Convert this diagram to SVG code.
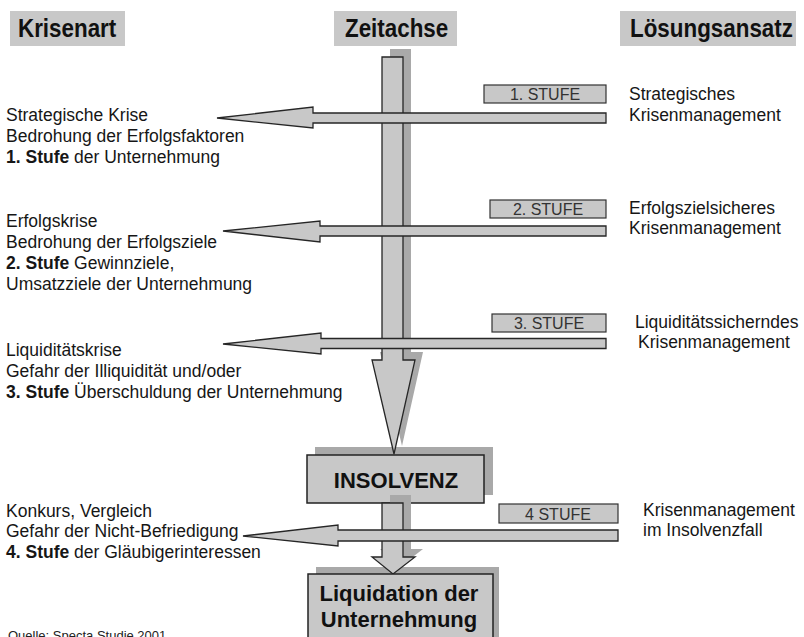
<svg xmlns="http://www.w3.org/2000/svg" width="804" height="637" viewBox="0 0 804 637">
<style>
.hdr{fill:#c8c8c8}
.hdrt{font-family:"Liberation Sans",Arial,sans-serif;font-weight:bold;font-size:22.4px;fill:#111}
.sh{fill:#a9a9a9}
.ar{fill:#c8c8c8;stroke:#262626;stroke-width:1.3;stroke-linejoin:miter}
.box{fill:#c8c8c8;stroke:#222;stroke-width:1.5}
.boxt{font-family:"Liberation Sans",Arial,sans-serif;font-weight:bold;font-size:22px;fill:#111;text-anchor:middle}
.st{fill:#c8c8c8;stroke:#333;stroke-width:1.2}
.stt{font-family:"Liberation Sans",Arial,sans-serif;font-size:16px;fill:#333;text-anchor:middle}
.t{font-family:"Liberation Sans",Arial,sans-serif;font-size:17.5px;fill:#161616}
.t tspan.b{font-weight:bold}
.src{font-family:"Liberation Sans",Arial,sans-serif;font-size:13px;fill:#222}
</style>
<rect width="804" height="637" fill="#fff"/>

<g id="header-krisenart">
<rect class="hdr" x="10" y="11" width="115" height="35"/>
<text class="hdrt" transform="translate(18,37) scale(1,1.17)">Krisenart</text>
</g>
<g id="header-zeitachse">
<rect class="hdr" x="334" y="11" width="123" height="35"/>
<text class="hdrt" transform="translate(345,37) scale(1,1.17)">Zeitachse</text>
</g>
<g id="header-loesungsansatz">
<rect class="hdr" x="620" y="11" width="176" height="35"/>
<text class="hdrt" transform="translate(630,37) scale(1,1.17)">Lösungsansatz</text>
</g>

<g id="insolvenz-shadow">
<rect class="sh" x="315" y="447" width="178" height="48"/>
</g>
<g id="connectors-vertical-upper">
<polygon class="sh" points="390,49 411,49 411,352 423,352 402,446 380,352 390,352"/>
<polygon class="ar" points="382,57 403,57 403,360 415,360 394,454 372,360 382,360"/>
</g>
<g id="insolvenz">
<rect class="box" x="307" y="455" width="177" height="48"/>
<text class="boxt" x="396" y="488">INSOLVENZ</text>
</g>
<g id="liquidation-shadow">
<rect class="sh" x="316" y="567" width="183" height="80"/>
</g>
<g id="connectors-vertical-lower">
<polygon class="sh" points="390,495 411,495 411,549 423,549 401,566 380,549 390,549"/>
<polygon class="ar" points="382,503 403,503 403,557 415,557 393,574 372,557 382,557"/>
</g>
<g id="liquidation">
<rect class="box" x="308" y="574" width="185" height="80"/>
<text class="boxt" x="399" y="601">Liquidation der</text>
<text class="boxt" x="399" y="627">Unternehmung</text>
</g>

<g id="connectors-horizontal">
<polygon class="ar" points="606,113 313,113 313,107 217,118 313,128 313,123 606,123"/>
<polygon class="ar" points="606,226 320,226 320,221 223,231 320,242 320,236 606,236"/>
<polygon class="ar" points="606,338.5 321,338.5 321,333 223,344 321,354 321,348.5 606,348.5"/>
<polygon class="ar" points="618,530 338,530 338,525 243,536 338,546 338,541 618,541"/>
</g>

<g id="stufe1">
<rect class="st" x="484" y="85" width="122" height="18"/>
<text class="stt" x="545" y="100">1. STUFE</text>
</g>
<g id="stufe2">
<rect class="st" x="490" y="200" width="116" height="18"/>
<text class="stt" x="548" y="215">2. STUFE</text>
</g>
<g id="stufe3">
<rect class="st" x="492" y="314" width="114" height="18"/>
<text class="stt" x="549" y="329">3. STUFE</text>
</g>
<g id="stufe4">
<rect class="st" x="499" y="504" width="119" height="19"/>
<text class="stt" x="558" y="520">4 STUFE</text>
</g>

<g id="krise1">
<text class="t" x="6" y="121">Strategische Krise</text>
<text class="t" x="6" y="142">Bedrohung der Erfolgsfaktoren</text>
<text class="t" x="6" y="163"><tspan class="b">1. Stufe</tspan> der Unternehmung</text>
</g>
<g id="krise2">
<text class="t" x="6" y="227">Erfolgskrise</text>
<text class="t" x="6" y="248">Bedrohung der Erfolgsziele</text>
<text class="t" x="6" y="269"><tspan class="b">2. Stufe</tspan> Gewinnziele,</text>
<text class="t" x="6" y="290">Umsatzziele der Unternehmung</text>
</g>
<g id="krise3">
<text class="t" x="6" y="356">Liquiditätskrise</text>
<text class="t" x="6" y="377">Gefahr der Illiquidität und/oder</text>
<text class="t" x="6" y="398"><tspan class="b">3. Stufe</tspan> Überschuldung der Unternehmung</text>
</g>
<g id="krise4">
<text class="t" x="6" y="517">Konkurs, Vergleich</text>
<text class="t" x="6" y="537">Gefahr der Nicht-Befriedigung</text>
<text class="t" x="6" y="558"><tspan class="b">4. Stufe</tspan> der Gläubigerinteressen</text>
</g>

<g id="loesung1">
<text class="t" x="629" y="100">Strategisches</text>
<text class="t" x="629" y="121">Krisenmanagement</text>
</g>
<g id="loesung2">
<text class="t" x="629" y="214">Erfolgszielsicheres</text>
<text class="t" x="629" y="234">Krisenmanagement</text>
</g>
<g id="loesung3">
<text class="t" x="635" y="328">Liquiditätssicherndes</text>
<text class="t" x="638" y="348">Krisenmanagement</text>
</g>
<g id="loesung4">
<text class="t" x="643" y="516">Krisenmanagement</text>
<text class="t" x="643" y="536">im Insolvenzfall</text>
</g>

<text class="src" x="8" y="640">Quelle: Specta Studie 2001</text>
</svg>
